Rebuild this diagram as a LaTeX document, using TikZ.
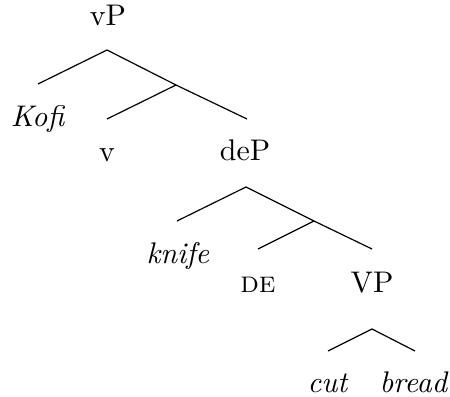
\documentclass[tikz,border=0pt]{standalone}
\begin{document}
\begin{tikzpicture}[x=0.335pt,y=-0.335pt,
  lab/.style={anchor=base,inner sep=0pt},
  branch/.style={line width=0.4pt}]
  \useasboundingbox (0,0) rectangle (450,397);
  % labels, placed on their baselines
  \node[lab] (vP) at (108,26) {vP};
  \node[lab] (Kofi) at (38,127) {\textit{Kofi}};
  \node[lab] (v) at (107,162) {v};
  \node[lab] (deP) at (245,161) {deP};
  \node[lab] (knife) at (178,263) {\textit{knife}};
  \node[lab] (DE) at (258,292) {\textsc{de}};
  \node[lab] (VP) at (372,292) {VP};
  \node[lab] (cut) at (328,392) {\textit{cut}};
  \node[lab] (bread) at (414,392) {\textit{bread}};
  % branch points under the mothers and above the daughters
  \coordinate (vP-a) at ([shift={(-1,24)}]vP.base);
  \coordinate (vbar) at (176,85);
  \coordinate (Kofi-t) at ([shift={(0,-43)}]Kofi.base);
  \coordinate (v-t) at ([shift={(0,-43)}]v.base);
  \coordinate (deP-t) at ([shift={(2,-42)}]deP.base);
  \coordinate (deP-a) at ([shift={(1,26)}]deP.base);
  \coordinate (debar) at (314,221);
  \coordinate (knife-t) at ([shift={(-1,-42)}]knife.base);
  \coordinate (DE-t) at ([shift={(0,-43)}]DE.base);
  \coordinate (VP-t) at ([shift={(0,-43)}]VP.base);
  \coordinate (VP-a) at ([shift={(0,37)}]VP.base);
  \coordinate (cut-t) at ([shift={(0,-41)}]cut.base);
  \coordinate (bread-t) at ([shift={(1,-41)}]bread.base);
  % vP
  \draw[branch] (vP-a) -- (Kofi-t);
  \draw[branch] (vP-a) -- (vbar) -- (deP-t);
  \draw[branch] (vbar) -- (v-t);
  % deP
  \draw[branch] (deP-a) -- (knife-t);
  \draw[branch] (deP-a) -- (debar) -- (VP-t);
  \draw[branch] (debar) -- (DE-t);
  % VP
  \draw[branch] (VP-a) -- (cut-t);
  \draw[branch] (VP-a) -- (bread-t);
\end{tikzpicture}
\end{document}
